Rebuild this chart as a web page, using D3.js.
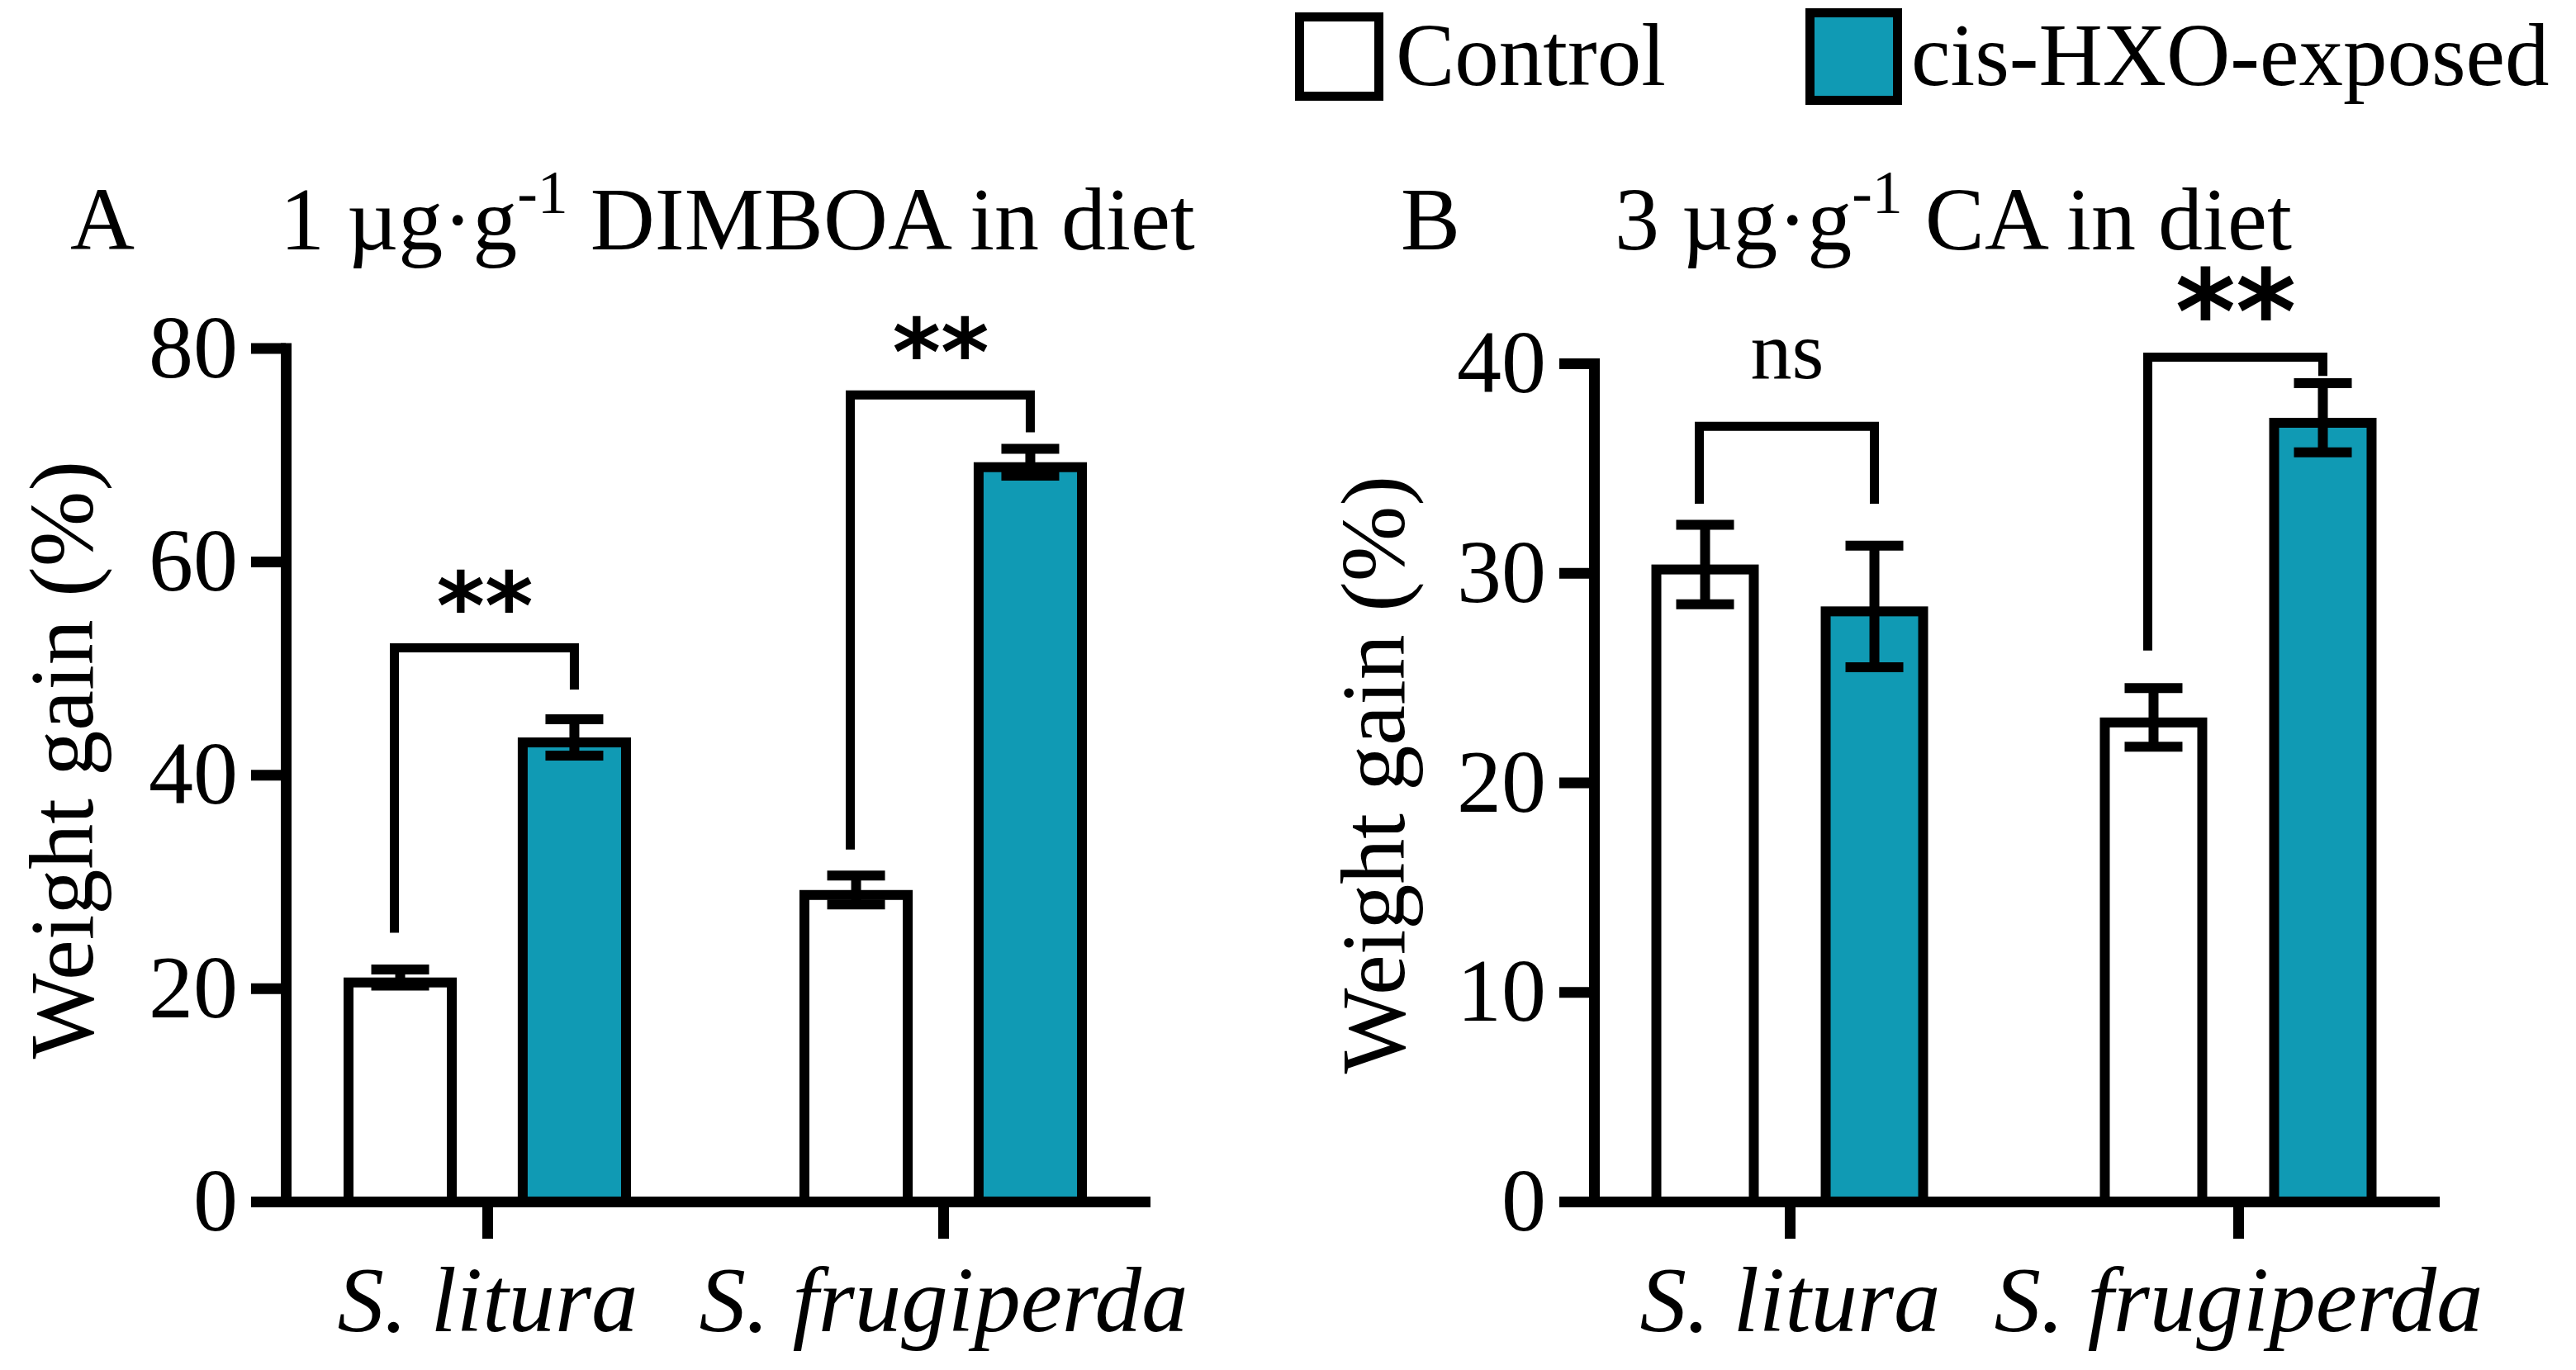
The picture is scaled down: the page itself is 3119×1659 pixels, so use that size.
<!DOCTYPE html>
<html>
<head>
<meta charset="utf-8">
<script src="https://cdn.jsdelivr.net/npm/d3@7"></script>
<style>
  body { margin: 0; background: #fff; }
  text { font-family: "Liberation Serif", "Times New Roman", serif; fill: #000; white-space: pre; }
</style>
</head>
<body>
<svg id="chart"></svg>
<script>
var species = ["S. litura", "S. frugiperda"]
var treatments = ["Control", "cis-HXO-exposed"]

// panel A: 1 ug/g DIMBOA in diet (mean, sem)
var dimboaControl = [21.0, 29.2]
var dimboaControlSem = [0.75, 1.35]
var dimboaExposed = [43.5, 69.3]
var dimboaExposedSem = [1.7, 1.25]
var dimboaTicks = [0, 20, 40, 60, 80]
// significance brackets, in data units: top of bracket, left foot, right foot
var dimboaSig = [
    {species: "S. litura", label: "**", top: 51.9, left: 25.2, right: 48.0},
    {species: "S. frugiperda", label: "**", top: 75.6, left: 33.0, right: 72.1}
]

// panel B: 3 ug/g CA in diet
var caControl = [30.4, 23.1]
var caControlSem = [1.9, 1.4]
var caExposed = [28.4, 37.4]
var caExposedSem = [2.9, 1.65]
var caTicks = [0, 10, 20, 30, 40]
var caSig = [
    {species: "S. litura", label: "ns", top: 37.0, left: 33.3, right: 33.3},
    {species: "S. frugiperda", label: "**", top: 40.3, left: 26.3, right: 39.4}
]

var teal = "#109ab4"
var W = 3119, H = 1659

var svg = d3.select("#chart")
            .attr("width", W)
            .attr("height", H)

function drawPanel(cfg, control, controlSem, exposed, exposedSem, ticks, sig) {
    var g = svg.append("g")

    var xScale = d3.scalePoint()
                   .domain(species)
                   .range([cfg.left, cfg.right])
                   .padding(cfg.pad)
    var inner = d3.scaleBand()
                  .domain(treatments)
                  .range([-cfg.half, cfg.half])
                  .paddingInner(cfg.gap)
    var yScale = d3.scaleLinear()
                   .domain([0, d3.max(ticks)])
                   .range([cfg.bottom, cfg.top])

    var rows = []
    species.forEach(function(s, i) {
        rows.push({s: s, t: treatments[0], v: control[i], e: controlSem[i]})
        rows.push({s: s, t: treatments[1], v: exposed[i], e: exposedSem[i]})
    })
    var bw = inner.bandwidth()
    var sw = 12
    var cx = d => xScale(d.s) + inner(d.t) + bw / 2

    // bars, border drawn inside the bar outline
    g.selectAll("rect.bar")
     .data(rows)
     .join("rect")
     .attr("class", "bar")
     .attr("x", d => xScale(d.s) + inner(d.t) + sw / 2)
     .attr("y", d => yScale(d.v) + sw / 2)
     .attr("width", bw - sw)
     .attr("height", d => yScale(0) - yScale(d.v) - sw / 2)
     .style("fill", d => d.t == treatments[0] ? "#fff" : teal)
     .style("stroke", "#000")
     .style("stroke-width", sw)

    // error bars
    var eb = g.selectAll("g.err")
              .data(rows)
              .join("g")
              .attr("class", "err")
              .style("stroke", "#000")
              .style("stroke-width", sw)
    eb.append("line")
      .attr("x1", cx).attr("x2", cx)
      .attr("y1", d => yScale(d.v - d.e))
      .attr("y2", d => yScale(d.v + d.e))
    eb.append("line")
      .attr("x1", d => cx(d) - 35).attr("x2", d => cx(d) + 35)
      .attr("y1", d => yScale(d.v + d.e)).attr("y2", d => yScale(d.v + d.e))
    eb.append("line")
      .attr("x1", d => cx(d) - 35).attr("x2", d => cx(d) + 35)
      .attr("y1", d => yScale(d.v - d.e)).attr("y2", d => yScale(d.v - d.e))

    // axes
    var yAxisgen = d3.axisLeft(yScale)
                     .tickValues(ticks)
                     .tickSize(42)
                     .tickSizeOuter(0)
                     .tickPadding(16)
                     .tickFormat(d3.format("d"))
    var yAxis = g.append("g")
                 .attr("transform", `translate(${cfg.left},0)`)
                 .call(yAxisgen)
    var xAxisgen = d3.axisBottom(xScale)
                     .tickSize(45)
                     .tickSizeOuter(0)
                     .tickPadding(32)
    var xAxis = g.append("g")
                 .attr("transform", `translate(0,${cfg.bottom})`)
                 .call(xAxisgen)

    ;[yAxis, xAxis].forEach(function(a) {
        a.attr("font-family", null).attr("font-size", null)
        a.select(".domain")
         .style("stroke", "#000")
         .style("stroke-width", 13)
         .style("stroke-linecap", "square")
        a.selectAll(".tick line")
         .style("stroke", "#000")
         .style("stroke-width", 13)
    })
    yAxis.selectAll(".tick text").style("font-size", "108px")
    xAxis.selectAll(".tick text")
         .style("font-size", "113px")
         .style("font-style", "italic")

    // significance brackets
    var br = g.selectAll("g.sig")
              .data(sig)
              .join("g")
              .attr("class", "sig")
    br.append("path")
      .attr("d", function(d) {
          var xl = xScale(d.species) + inner(treatments[0]) + bw / 2 - 7
          var xr = xScale(d.species) + inner(treatments[1]) + bw / 2
          return `M${xl},${yScale(d.left)}V${yScale(d.top)}H${xr}V${yScale(d.right)}`
      })
      .style("fill", "none")
      .style("stroke", "#000")
      .style("stroke-width", 11)
      .style("stroke-linejoin", "miter")
    br.append("text")
      .attr("x", d => xScale(d.species) + (inner(treatments[0]) + inner(treatments[1])) / 2 + bw / 2 - 3)
      .attr("y", d => yScale(d.top) - (d.label == "ns" ? cfg.nsLift : cfg.starLift))
      .attr("text-anchor", "middle")
      .style("font-family", d => d.label == "ns" ? null : "'DejaVu Sans', sans-serif")
      .style("font-weight", d => d.label == "ns" ? null : "bold")
      .style("font-size", d => (d.label == "ns" ? 100 : cfg.starSize) + "px")
      .text(d => d.label)

    // y label
    g.append("text")
     .attr("transform", `translate(${cfg.ylabX},${cfg.ylabY}) rotate(-90)`)
     .attr("text-anchor", "middle")
     .style("font-size", "110px")
     .text("Weight gain (%)")

    // panel letter and title
    g.append("text")
     .attr("x", cfg.letterX).attr("y", 302)
     .style("font-size", "108px")
     .text(cfg.letter)
    var t = g.append("text")
             .attr("x", cfg.titleX).attr("y", 302)
             .style("font-size", "108px")
    t.append("tspan").text(cfg.titleA)
    t.append("tspan").attr("dy", -44).style("font-size", "74px").text("-1")
    t.append("tspan").attr("dy", 44).text(cfg.titleB)
}

drawPanel({left: 346, right: 1386, pad: 0.442, half: 174, gap: 0.35,
           bottom: 1455, top: 421.5, starLift: 12, nsLift: 58, starSize: 112,
           ylabX: 112, ylabY: 920, letter: "A", letterX: 85,
           titleX: 339, titleA: "1 \u00b5g\u00b7g", titleB: " DIMBOA in diet"},
          dimboaControl, dimboaControlSem, dimboaExposed, dimboaExposedSem, dimboaTicks, dimboaSig)

drawPanel({left: 1930, right: 2947, pad: 0.4365, half: 167.5, gap: 0.366,
           bottom: 1455, top: 440, starLift: 5, nsLift: 58, starSize: 140,
           ylabX: 1700, ylabY: 938, letter: "B", letterX: 1696,
           titleX: 1955, titleA: "3 \u00b5g\u00b7g", titleB: " CA in diet"},
          caControl, caControlSem, caExposed, caExposedSem, caTicks, caSig)

// legend
var legendSizes = [96, 106]
var legendX = [1573.5, 2191.5]
var legendTextX = [1690, 2314]
var legend = svg.append("g")
                .selectAll("g")
                .data(treatments)
                .join("g")
legend.append("rect")
      .attr("x", (d, i) => legendX[i])
      .attr("y", (d, i) => 68.5 - legendSizes[i] / 2)
      .attr("width", (d, i) => legendSizes[i])
      .attr("height", (d, i) => legendSizes[i])
      .style("fill", (d, i) => i == 0 ? "#fff" : teal)
      .style("stroke", "#000")
      .style("stroke-width", 11)
legend.append("text")
      .attr("x", (d, i) => legendTextX[i])
      .attr("y", 103)
      .style("font-size", "107px")
      .text(d => d)
</script>
</body>
</html>
